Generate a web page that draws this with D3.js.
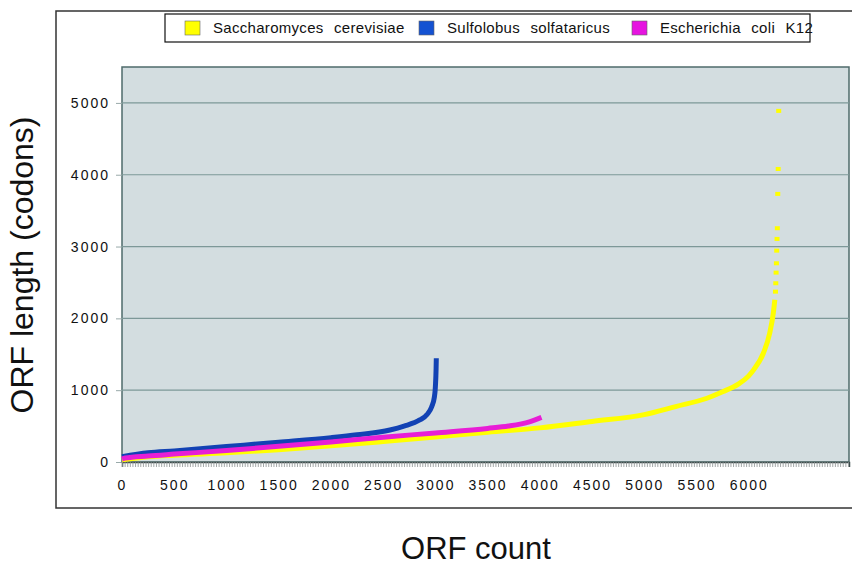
<!DOCTYPE html>
<html>
<head>
<meta charset="utf-8">
<title>ORF length</title>
<script src="https://cdn.jsdelivr.net/npm/d3@7/dist/d3.min.js"></script>
<style>
body { margin:0; background:#fff; }
text { font-family: "Liberation Sans", Arial, sans-serif; }
</style>
</head>
<body>
<script>
// series: [ORF count, ORF length]
var seriesNames = ["Saccharomyces cerevisiae", "Sulfolobus solfataricus", "Escherichia coli K12"];
var seriesColors = ["#ffff00", "#1242b4", "#e81ed6"];
var legendColors = ["#ffff00", "#1452d2", "#e614e0"];

var yeastCounts = [0, 250, 500, 1000, 1500, 2000, 2500, 3000, 3500, 4000, 4500, 5000, 5300, 5600, 5750, 5900, 6000, 6050, 6140, 6200, 6235, 6250];
var yeastLengths = [30, 72, 95, 128, 172, 225, 285, 348, 415, 475, 565, 660, 772, 888, 978, 1085, 1200, 1290, 1514, 1790, 2070, 2260];
// the last few yeast ORFs stand apart as single markers
var yeastTailCounts = [6256, 6259, 6262, 6265, 6268, 6271, 6274, 6278, 6282, 6287];
var yeastTailLengths = [2372, 2489, 2637, 2767, 2943, 3106, 3255, 3733, 4080, 4889];

var sulfoCounts = [0, 250, 500, 1000, 1500, 2000, 2250, 2565, 2700, 2850, 2920, 2965, 2990, 2998, 3002, 3005, 3007, 3009];
var sulfoLengths = [75, 128, 155, 215, 275, 338, 378, 446, 500, 585, 660, 770, 900, 1000, 1100, 1200, 1300, 1444];

var ecoliCounts = [0, 30, 250, 500, 1000, 1500, 2000, 2500, 3000, 3500, 3700, 3900, 4016];
var ecoliLengths = [40, 55, 84, 110, 160, 218, 280, 345, 405, 468, 501, 560, 622];

var xTickLabels = [0, 500, 1000, 1500, 2000, 2500, 3000, 3500, 4000, 4500, 5000, 5500, 6000];
var yTickLabels = [0, 1000, 2000, 3000, 4000, 5000];

var width = 852, height = 565;
var svg = d3.select('body').append('svg').attr('width', width).attr('height', height);

var x = d3.scaleLinear().domain([0, 6960]).range([122, 849]);
var y = d3.scaleLinear().domain([0, 5500]).range([462, 67]);

// outer frame
svg.append('rect').attr('x', 56).attr('y', 11).attr('width', 810).attr('height', 497)
  .attr('fill', 'none').attr('stroke', '#333').attr('stroke-width', 1.5);

// plot area
svg.append('rect').attr('x', x(0)).attr('y', y(5500))
  .attr('width', x(6960) - x(0)).attr('height', y(0) - y(5500))
  .attr('fill', '#d3dde0').attr('stroke', '#4f6b6b').attr('stroke-width', 1.5);

svg.selectAll('line.grid').data(yTickLabels.slice(1)).enter().append('line')
  .attr('class', 'grid')
  .attr('x1', x(0)).attr('x2', x(6960))
  .attr('y1', function(d){ return y(d); }).attr('y2', function(d){ return y(d); })
  .attr('stroke', '#7d9898').attr('stroke-width', 1.2);

// y axis: short ticks and labels
var yAxis = svg.append('g').attr('transform', 'translate(' + x(0) + ',0)')
  .call(d3.axisLeft(y).tickValues(yTickLabels).tickFormat(d3.format('d')).tickSize(6).tickPadding(6));
yAxis.select('.domain').remove();
yAxis.selectAll('line').attr('stroke', '#9aa');
yAxis.selectAll('text').attr('font-size', 14).attr('letter-spacing', '2px')
  .attr('fill', '#111').attr('font-family', '"Liberation Sans", Arial, sans-serif');

// x axis: dense hatch of category ticks
var xHatch = svg.append('g').attr('transform', 'translate(0,' + y(0) + ')')
  .call(d3.axisBottom(x).tickValues(d3.range(0, 6960, 25)).tickSize(5).tickFormat(''));
xHatch.select('.domain').attr('stroke', '#3c4c4c').attr('stroke-width', 1.5);
xHatch.selectAll('line').attr('stroke', '#8a9090').attr('stroke-width', 0.8);

var xAxis = svg.append('g').attr('transform', 'translate(0,' + y(0) + ')')
  .call(d3.axisBottom(x).tickValues(xTickLabels).tickFormat(d3.format('d')).tickSize(0).tickPadding(18));
xAxis.select('.domain').remove();
xAxis.selectAll('text').attr('font-size', 14).attr('letter-spacing', '2px')
  .attr('fill', '#111').attr('font-family', '"Liberation Sans", Arial, sans-serif');

// curves
var line = d3.line()
  .x(function(d){ return x(d[0]); })
  .y(function(d){ return y(d[1]); })
  .curve(d3.curveMonotoneX);

var allSeries = [
  d3.zip(yeastCounts, yeastLengths),
  d3.zip(sulfoCounts, sulfoLengths),
  d3.zip(ecoliCounts, ecoliLengths)
];

svg.selectAll('path.series').data(allSeries).enter().append('path')
  .attr('class', 'series')
  .attr('d', line)
  .attr('fill', 'none')
  .attr('stroke', function(d, i){ return seriesColors[i]; })
  .attr('stroke-width', 5);

svg.selectAll('rect.tail').data(d3.zip(yeastTailCounts, yeastTailLengths)).enter().append('rect')
  .attr('class', 'tail')
  .attr('x', function(d){ return x(d[0]) - 2.5; })
  .attr('y', function(d){ return y(d[1]) - 2; })
  .attr('width', 5).attr('height', 4)
  .attr('fill', seriesColors[0]);

// legend
svg.append('rect').attr('x', 165).attr('y', 14).attr('width', 645).attr('height', 28)
  .attr('fill', '#fff').attr('stroke', '#111').attr('stroke-width', 1.2);
var legendX = [185, 419, 632];
var leg = svg.selectAll('g.leg').data(seriesNames).enter().append('g')
  .attr('class', 'leg')
  .attr('transform', function(d, i){ return 'translate(' + legendX[i] + ',0)'; });
leg.append('rect').attr('x', 0).attr('y', 21).attr('width', 15).attr('height', 14)
  .attr('fill', function(d, i){ return legendColors[i]; })
  .attr('stroke', '#666').attr('stroke-width', 0.6);
leg.append('text').attr('x', 28).attr('y', 33)
  .attr('font-size', 15).attr('word-spacing', '6px').attr('letter-spacing', '0.3px')
  .attr('fill', '#111')
  .text(function(d){ return d; });

// axis titles
svg.append('text').attr('x', 476).attr('y', 559).attr('text-anchor', 'middle')
  .attr('font-size', 31).attr('fill', '#111').text('ORF count');
svg.append('text').attr('transform', 'translate(33,265) rotate(-90)').attr('text-anchor', 'middle')
  .attr('font-size', 32).attr('fill', '#111').text('ORF length (codons)');
</script>
</body>
</html>
